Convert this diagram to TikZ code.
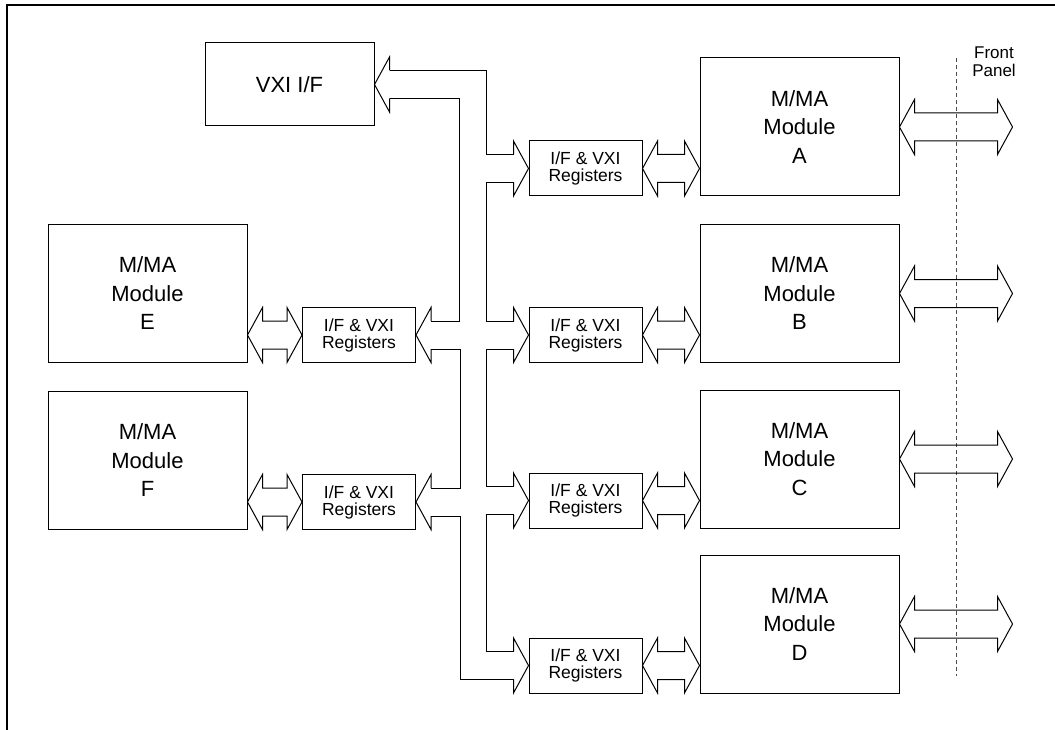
\documentclass[tikz,border=0pt]{standalone}
\usepackage{fontspec}
\setmainfont{Liberation Sans}
\usetikzlibrary{calc}

\tikzset{
  module/.style={draw, minimum width=199pt, minimum height=138pt, inner sep=0pt,
    align=center, font=\fontsize{22}{28.5}\selectfont},
  regbox/.style={draw, minimum width=113pt, minimum height=55pt, inner sep=0pt,
    align=center, font=\fontsize{17.5}{17}\selectfont},
  vxibox/.style={draw, minimum width=169pt, minimum height=83pt, inner sep=0pt,
    font=\fontsize{22}{26}\selectfont},
  panel/.style={gray!60!black, line width=.7pt, dash pattern=on 4pt off 3pt},
}

% hollow bus head, tip at #1, #2=1 points right, -1 points left
\newcommand\busHead[2]{%
  \draw ($(#1)+({-15*(#2)},-14)$) -- ++(0,-13.5) -- (#1)
    -- ++({-15*(#2)},27.5) -- ++(0,-13.5);}
% hollow double arrow from #1 to #2 (same height)
\newcommand\dblArrow[2]{%
  \draw (#1) -- ++(15,-27.5) -- ++(0,13.5) -- ($(#2)+(-15,-14)$) -- ++(0,-13.5)
    -- (#2) -- ++(-15,27.5) -- ++(0,-13.5) -- ($(#1)+(15,14)$) -- ++(0,13.5) -- cycle;}

\begin{document}
\begin{tikzpicture}[x=1pt, y=-1pt, line width=1pt, line join=miter]
  \useasboundingbox (0,0) rectangle (1055,730);
  \draw[line width=1.8pt] (1055,5) -- (7,5) -- (7,730);

  % boxes
  \node[vxibox] (vxi) at (289.5,84.5) {VXI I/F};
  \node[module] (modA) at (799.5,127) {M/MA\\Module\\A};
  \node[module] (modB) at (799.5,293.5) {M/MA\\Module\\B};
  \node[module] (modC) at (799.5,459) {M/MA\\Module\\C};
  \node[module] (modD) at (799.5,624) {M/MA\\Module\\D};
  \node[module] (modE) at (147.5,293.5) {M/MA\\Module\\E};
  \node[module] (modF) at (147.5,460.5) {M/MA\\Module\\F};
  \node[regbox] (regA) at (585.5,168.5) {I/F \& VXI\\Registers};
  \node[regbox] (regB) at (585.5,335) {I/F \& VXI\\Registers};
  \node[regbox] (regC) at (585.5,500.5) {I/F \& VXI\\Registers};
  \node[regbox] (regD) at (585.5,665.5) {I/F \& VXI\\Registers};
  \node[regbox] (regE) at (359,335) {I/F \& VXI\\Registers};
  \node[regbox] (regF) at (359,502) {I/F \& VXI\\Registers};

  % front panel
  \node[font=\fontsize{17}{18}\selectfont, align=center] (fptext) at (994,62) {Front\\Panel};
  \coordinate (fpTop) at (956,58); \coordinate (fpBot) at (956,676);
  \draw[panel] (fpTop) -- (fpBot);

  % bus, upper rail
  \draw ($(vxi.east)+(15,-14)$) -| ($(regA.west)+(-42,-14)$) -- ($(regA.west)+(-15,-14)$);
  \draw ($(regA.west)+(-15,14)$) -| ($(regB.west)+(-42,-14)$) -- ($(regB.west)+(-15,-14)$);
  \draw ($(regB.west)+(-15,14)$) -| ($(regC.west)+(-42,-14)$) -- ($(regC.west)+(-15,-14)$);
  \draw ($(regC.west)+(-15,14)$) -| ($(regD.west)+(-42,-14)$) -- ($(regD.west)+(-15,-14)$);
  % bus, lower rail
  \draw ($(regD.west)+(-15,14)$) -| ($(regF.east)+(44,14)$) -- ($(regF.east)+(15,14)$);
  \draw ($(regF.east)+(15,-14)$) -| ($(regE.east)+(44,14)$) -- ($(regE.east)+(15,14)$);
  \draw ($(regE.east)+(15,-14)$) -| ($(vxi.east)+(85,14)$) -- ($(vxi.east)+(15,14)$);

  \busHead{vxi.east}{-1}
  \busHead{regA.west}{1} \busHead{regB.west}{1}
  \busHead{regC.west}{1} \busHead{regD.west}{1}
  \busHead{regE.east}{-1} \busHead{regF.east}{-1}

  % registers to modules
  \dblArrow{regA.east}{modA.west |- regA.east}
  \dblArrow{regB.east}{modB.west |- regB.east}
  \dblArrow{regC.east}{modC.west |- regC.east}
  \dblArrow{regD.east}{modD.west |- regD.east}
  \dblArrow{modE.east |- regE.west}{regE.west}
  \dblArrow{modF.east |- regF.west}{regF.west}

  % modules to front panel
  \coordinate (fpA) at ($(modA.east)+(113,0)$);
  \coordinate (fpB) at ($(modB.east)+(113,0)$);
  \coordinate (fpC) at ($(modC.east)+(113,0)$);
  \coordinate (fpD) at ($(modD.east)+(113,0)$);
  \dblArrow{modA.east}{fpA} \dblArrow{modB.east}{fpB}
  \dblArrow{modC.east}{fpC} \dblArrow{modD.east}{fpD}
\end{tikzpicture}
\end{document}
